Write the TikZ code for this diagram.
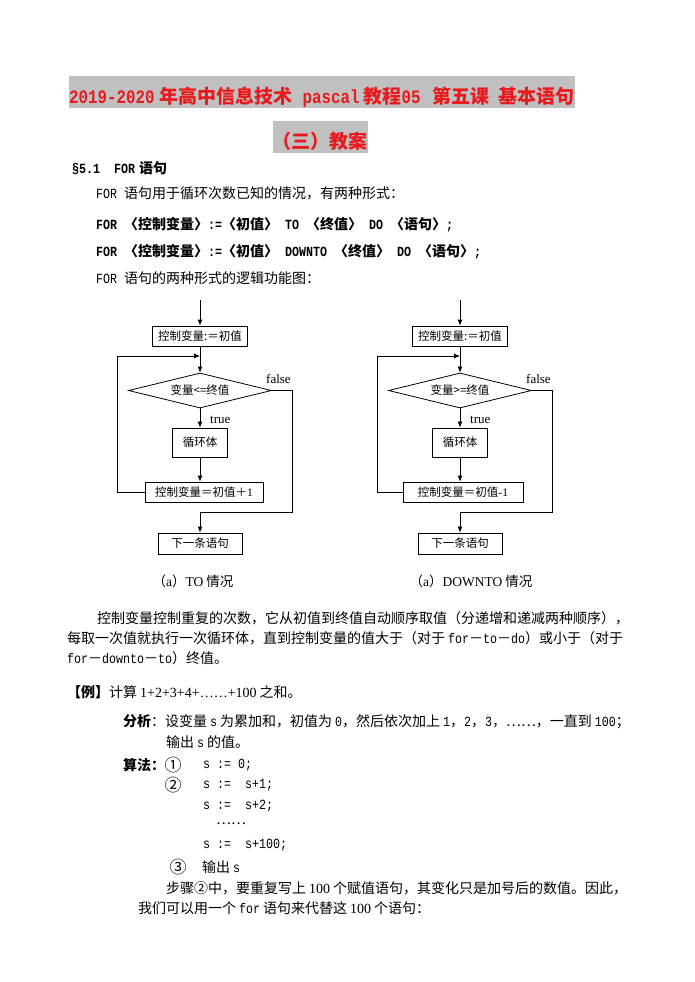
\documentclass[tikz,border=0pt]{standalone}
\usepackage{fontspec}
\setmainfont{Noto Sans CJK SC}
\newfontfamily\lmono{Liberation Mono}[FakeStretch=0.833]
\newfontfamily\tnr{Liberation Serif}
\usetikzlibrary{shapes.geometric,arrows.meta}
\definecolor{titlered}{RGB}{232,26,30}
\definecolor{titlegray}{RGB}{192,192,192}
\newcommand\bodysize{\fontsize{14}{20}\selectfont}
\newcommand\ml[1]{{\lmono #1}}
\newcommand\tm[1]{{\tnr #1}}
\begin{document}
\begin{tikzpicture}[x=1pt, y=-1pt,
        every node/.style={inner sep=0pt, font=\bodysize},
        ln/.style={anchor=west},
        heading/.style={
            fill=titlegray,
            text=titlered,
            font=\fontsize{19}{24}\selectfont\bfseries,
            text height=27pt,
            text depth=5pt},
        box/.style={
            draw,
            line width=0.8pt,
            minimum height=20pt,
            font=\fontsize{11.5}{14}\selectfont},
        test/.style={
            draw,
            line width=0.8pt,
            diamond,
            aspect=4,
            minimum width=143pt,
            minimum height=35pt,
            font=\fontsize{11.5}{14}\selectfont},
        tf/.style={anchor=west, font=\fontsize{13}{15}\tnr},
        num/.style={font=\fontsize{17}{20}\selectfont},
        flow/.style={line width=0.8pt, -{Latex[length=6pt,width=5pt]}}]
    \useasboundingbox (0,0) rectangle (695,982);

    % title
    \node[heading, anchor=base west] (T1) at (69,103) {\ml{2019-2020}\hspace{5pt}年高中信息技术\hspace{10pt}\ml{pascal}\hspace{4pt}教程\ml{05}\hspace{12pt}第五课\hspace{9pt}基本语句};
    \node[heading, anchor=base] (T2) at (320,148) {（三）教案};

    \node[ln, font=\bodysize\bfseries] (S51) at (72,168) {\ml{§5.1~~FOR}\hspace{4pt}语句};
    \node[ln] (P1) at (96,193) {\ml{FOR~}语句用于循环次数已知的情况，有两种形式：};
    \node[ln, font=\bodysize\bfseries] (F1) at (96,225) {\ml{FOR}\hspace{7pt}〈控制变量〉\ml{:=}〈初值〉\hspace{7pt}\ml{TO}\hspace{7pt}〈终值〉\hspace{7pt}\ml{DO}\hspace{7pt}〈语句〉\ml{;}};
    \node[ln, font=\bodysize\bfseries] (F2) at (96,252) {\ml{FOR}\hspace{7pt}〈控制变量〉\ml{:=}〈初值〉\hspace{7pt}\ml{DOWNTO}\hspace{7pt}〈终值〉\hspace{7pt}\ml{DO}\hspace{7pt}〈语句〉\ml{;}};
    \node[ln] (P2) at (96,278) {\ml{FOR~}语句的两种形式的逻辑功能图：};

    % TO chart
    \coordinate (LS) at (200,300);
    \node[box, minimum width=95pt] (LInit) at (200,336) {控制变量:＝初值};
    \node[test] (LTest) at (200,390.5) {变量<=终值};
    \node[box, minimum width=55pt, minimum height=29pt] (LBody) at (200,442.5) {循环体};
    \node[box, minimum width=118pt] (LStep) at (204,492) {控制变量＝初值＋\tm{1}};
    \node[box, minimum width=84pt, minimum height=21pt] (LNext) at (200,543.5) {下一条语句};
    \coordinate (LBack) at (117,356);
    \coordinate (LJoin) at (200,356);
    \coordinate (LOut) at (292,512);
    \coordinate (LMerge) at (200,512);
    \node[tf] (LTrue) at (210,420) {true};
    \node[tf] (LFalse) at (266,379) {false};
    \node[font=\fontsize{13.5}{16}\selectfont] (LCap) at (193,581) {（\tm{a}）\tm{TO}\hspace{3pt}情况};

    \draw[flow] (LS) -- (LInit);
    \draw[flow] (LInit) -- (LTest);
    \draw[flow] (LTest) -- (LBody);
    \draw[flow] (LBody) -- (LBody |- LStep.north);
    \draw[flow] (LStep.west) -| (LBack) -- (LJoin);
    \draw[flow] (LTest.east) -| (LOut) -- (LMerge) -- (LNext);

    % DOWNTO chart
    \coordinate (RS) at (460,300);
    \node[box, minimum width=95pt] (RInit) at (460,336) {控制变量:＝初值};
    \node[test] (RTest) at (460,390.5) {变量>=终值};
    \node[box, minimum width=55pt, minimum height=29pt] (RBody) at (460,442.5) {循环体};
    \node[box, minimum width=120pt] (RStep) at (463,492) {控制变量＝初值\tm{-1}};
    \node[box, minimum width=84pt, minimum height=21pt] (RNext) at (460,543.5) {下一条语句};
    \coordinate (RBack) at (377,356);
    \coordinate (RJoin) at (460,356);
    \coordinate (ROut) at (552,512);
    \coordinate (RMerge) at (460,512);
    \node[tf] (RTrue) at (470,420) {true};
    \node[tf] (RFalse) at (526,379) {false};
    \node[font=\fontsize{13.5}{16}\selectfont] (RCap) at (471,581) {（\tm{a}）\tm{DOWNTO}\hspace{3pt}情况};

    \draw[flow] (RS) -- (RInit);
    \draw[flow] (RInit) -- (RTest);
    \draw[flow] (RTest) -- (RBody);
    \draw[flow] (RBody) -- (RBody |- RStep.north);
    \draw[flow] (RStep.west) -| (RBack) -- (RJoin);
    \draw[flow] (RTest.east) -| (ROut) -- (RMerge) -- (RNext);

    % text below
    \node[ln] (Q1) at (97,618) {控制变量控制重复的次数，它从初值到终值自动顺序取值（分递增和递减两种顺序），};
    \node[ln] (Q2) at (67,638) {每取一次值就执行一次循环体，直到控制变量的值大于（对于\hspace{3pt}\ml{for}－\ml{to}－\ml{do}）或小于（对于};
    \node[ln] (Q3) at (67,658) {\ml{for}－\ml{downto}－\ml{to}）终值。};
    \node[ln] (Ex) at (67,692) {{\bfseries 【例】}计算\hspace{3pt}\tm{1+2+3+4+……+100}\hspace{3pt}之和。};
    \node[ln] (A1) at (123,722) {{\bfseries 分析}：设变量\hspace{3pt}\ml{s}\hspace{3pt}为累加和，初值为\hspace{3pt}\ml{0}，然后依次加上\hspace{3pt}\ml{1}，\ml{2}，\ml{3}，……，一直到\hspace{3pt}\ml{100}；};
    \node[ln] (A2) at (166,742) {输出\hspace{3pt}\ml{s}\hspace{3pt}的值。};
    \node[ln, font=\bodysize\bfseries] (G) at (123,765) {算法：};
    \node[num] (N1) at (173,765) {①};
    \node[ln] (C1) at (203,765) {\ml{s~:=~0;}};
    \node[num] (N2) at (173,785) {②};
    \node[ln] (C2) at (203,785) {\ml{s~:=~~s+1;}};
    \node[ln] (C3) at (203,806) {\ml{s~:=~~s+2;}};
    \node[ln] (Dots) at (216,824) {……};
    \node[ln] (C4) at (203,845) {\ml{s~:=~~s+100;}};
    \node[num] (N3) at (178,867) {③};
    \node[ln] (C5) at (202,867) {输出\hspace{3pt}\ml{s}};
    \node[ln] (B1) at (166,888) {步骤②中，要重复写上\hspace{3pt}\tm{100}\hspace{3pt}个赋值语句，其变化只是加号后的数值。因此，};
    \node[ln] (B2) at (138,908) {我们可以用一个\hspace{3pt}\ml{for}\hspace{3pt}语句来代替这\hspace{3pt}\tm{100}\hspace{3pt}个语句：};
\end{tikzpicture}
\end{document}
